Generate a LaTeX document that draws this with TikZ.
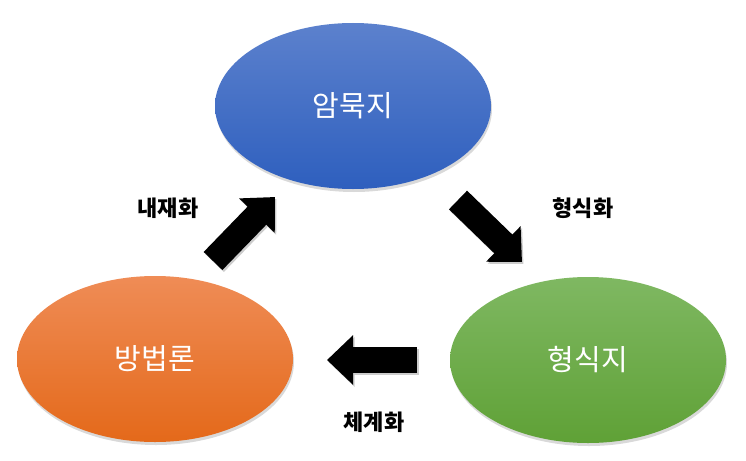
\documentclass[tikz,border=0pt]{standalone}
\usepackage{fontspec}
\setmainfont{Noto Sans CJK KR}
\usetikzlibrary{arrows.meta, shapes.geometric, shadows}

\definecolor{tacittop}{HTML}{5C81CD}
\definecolor{tacitbot}{HTML}{2E5FBE}
\definecolor{explicittop}{HTML}{7FB862}
\definecolor{explicitbot}{HTML}{5FA136}
\definecolor{methodtop}{HTML}{EF8C56}
\definecolor{methodbot}{HTML}{E4691A}

\begin{document}
\begin{tikzpicture}[
  x=1pt, y=-1pt,
  font=\fontsize{29}{33}\selectfont,
  blob/.style={ellipse, minimum width=276pt, minimum height=166pt, text=white,
    drop shadow={opacity=0.3, shadow xshift=1pt, shadow yshift=-3pt}},
  tacit/.style={blob, top color=tacittop, bottom color=tacitbot},
  explicit/.style={blob, top color=explicittop, bottom color=explicitbot},
  method/.style={blob, top color=methodtop, bottom color=methodbot},
  lbl/.style={font=\fontsize{22}{25}\selectfont\bfseries},
  blk/.style={line width=26pt, -{Triangle[length=26pt, width=48pt]}},
  blkshadow/.style={blk, black!20, transform canvas={shift={(1.5pt,-2pt)}}}
]
\useasboundingbox (0,0) rectangle (746,460);
\node[tacit] (tacit) at (353,106) {암묵지};
\node[explicit] (explicit) at (588,360) {형식지};
\node[method] (method) at (155,359) {방법론};
% arrow ends
\coordinate (a1) at (213,261);
\coordinate (b1) at (275,197);
\coordinate (a2) at (458,200);
\coordinate (b2) at (522,262);
\coordinate (a3) at (417,360);
\coordinate (b3) at (327,360);
\foreach \s/\e in {a1/b1, a2/b2, a3/b3}
  \draw[blkshadow] (\s) -- (\e);
\foreach \s/\e in {a1/b1, a2/b2, a3/b3}
  \draw[blk] (\s) -- (\e);
\node[lbl] (internal) at (168,208) {내재화};
\node[lbl] (formal) at (583,208) {형식화};
\node[lbl] (system) at (374,422) {체계화};
\end{tikzpicture}
\end{document}
